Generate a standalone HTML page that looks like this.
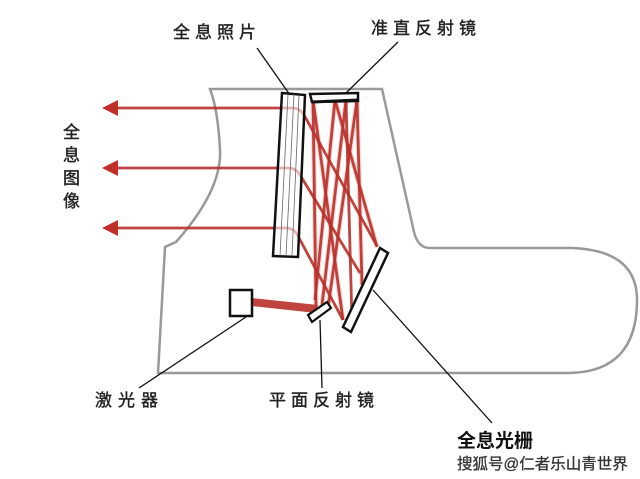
<!DOCTYPE html>
<html><head><meta charset="utf-8"><style>
html,body{margin:0;padding:0;background:#fff;}
svg{display:block}
text{font-family:"Liberation Sans","Noto Sans CJK SC",sans-serif;}
</style></head><body>
<svg width="640" height="479" viewBox="0 0 640 479" xmlns="http://www.w3.org/2000/svg">
<path d="M210,89 L382,89 L414,232 Q418,248 430,248 L571,248 Q637,250 637,300 Q637,372 569,373 L158,373 L165,247 L176,242 Q222,190 220,150 Q218,110 210,89 Z" fill="none" stroke="#999" stroke-width="2.5"/>
<g stroke="#f4b0a8" stroke-width="5" fill="none" stroke-opacity="0.5">
<path d="M316,306 L313,100 M313,100 L343,320 M335,100 L315,300 M335,100 L377,247 M357,100 L328,308 M357,100 L362,285 M322,305 L346,100"/>
</g>
<g stroke="#b8302a" stroke-width="2.8" fill="none" stroke-opacity="0.9">
<path d="M316,306 L313,100"/>
<path d="M313,100 L343,320"/>
<path d="M335,100 L315,300"/>
<path d="M335,100 L377,247"/>
<path d="M357,100 L328,308"/>
<path d="M357,100 L362,285"/>
<path d="M322,305 L346,100"/>
<path d="M346,100 L352,322"/>
<path d="M118,108 L292,108 Q300,108 304,115 L377,246"/>
<path d="M118,168 L288,168 Q296,168 300,175 L360,273"/>
<path d="M118,228 L286,228 Q294,228 298,236 L343,320"/>
</g>
<polygon points="252,298 318,305 316,313 252,306" fill="#b8302a" fill-opacity="0.9"/>
<g fill="#c0302a">
<polygon points="102,108 118,100 118,116"/>
<polygon points="102,168 118,160 118,176"/>
<polygon points="102,228 118,220 118,236"/>
</g>
<polygon points="282,93 305,95 298,257 273,256" fill="#fff" fill-opacity="0.6" stroke="#111" stroke-width="2.5"/>
<g stroke="#666" stroke-width="0.8"><line x1="288" y1="94" x2="280" y2="256"/><line x1="294" y1="94" x2="286" y2="256"/><line x1="299" y1="95" x2="292" y2="256"/></g>
<polygon points="310,94 358,93 358,101 312,102" fill="#fff" stroke="#111" stroke-width="2.5"/>
<line x1="312" y1="102" x2="358" y2="100" stroke="#111" stroke-width="3"/>
<polygon points="380,248 388,253 351,332 343,327" fill="#fff" stroke="#111" stroke-width="2.5"/>
<polygon points="308,315 312,322 331,308 327,302" fill="#fff" stroke="#111" stroke-width="2.2"/>
<rect x="230" y="290" width="22" height="26" fill="#fff" stroke="#111" stroke-width="2.5"/>
<g stroke="#111" stroke-width="1.3">
<line x1="257" y1="48" x2="290" y2="95"/>
<line x1="398" y1="42" x2="345" y2="94"/>
<line x1="139" y1="388" x2="249" y2="315"/>
<line x1="322" y1="388" x2="320" y2="320"/>
<line x1="492" y1="423" x2="373" y2="290"/>
</g>
<g font-size="17" fill="#222" stroke="#222" stroke-width="0.4">
<text x="173" y="38" letter-spacing="5">全息照片</text>
<text x="371" y="34" letter-spacing="5">准直反射镜</text>
<text x="95" y="406" letter-spacing="6">激光器</text>
<text x="269" y="406" letter-spacing="5">平面反射镜</text>
<text x="63" y="138">全</text>
<text x="63" y="161">息</text>
<text x="63" y="184">图</text>
<text x="63" y="207">像</text>
</g>
<text x="457" y="447" font-size="19" font-weight="bold" fill="#111">全息光栅</text>
<text x="457" y="469" font-size="15.5" fill="#333" stroke="#333" stroke-width="0.3">搜狐号@仁者乐山青世界</text>
</svg>
</body></html>
